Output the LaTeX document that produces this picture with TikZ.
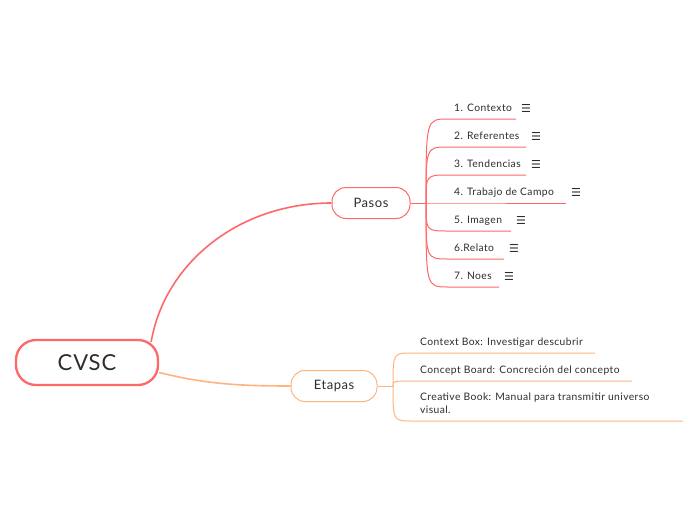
\documentclass[tikz,border=0pt]{standalone}
\usepackage{fontspec}
\setmainfont{Lato}[LetterSpace=4]
\newfontfamily\iconfont{DejaVu Sans}
\usepackage{xcolor}
\usetikzlibrary{positioning,calc}
\definecolor{pasosred}{RGB}{255,104,104}
\definecolor{etapasorange}{RGB}{255,180,128}
\definecolor{inkgray}{RGB}{45,45,45}

\begin{document}
\begin{tikzpicture}[x=1pt, y=-1pt, font=\fontsize{10.3}{13}\selectfont, text=inkgray,
    rootbox/.style={draw=pasosred, line width=2.3pt, rounded corners=20pt, fill=white,
        minimum width=142pt, minimum height=45pt, font=\fontsize{22}{26}\selectfont},
    topicbox/.style={line width=1pt, rounded corners=14pt, fill=white,
        minimum height=31pt, font=\fontsize{13}{16}\selectfont},
    leaf/.style={anchor=south west, inner ysep=7pt, text depth=0pt, align=left},
    menuicon/.style={font=\iconfont\fontsize{11}{11}\selectfont, inner sep=0pt}]
    \useasboundingbox[fill=white] (0,0) rectangle (697,520);

    % central topic and main branches
    \node[rootbox] (root) at (87,362.5) {CVSC};
    \node[topicbox, draw=pasosred, minimum width=78pt] (pasos) at (371,203) {Pasos};
    \node[topicbox, draw=etapasorange, minimum width=86pt] (etapas) at (334,386) {Etapas};
    \draw[pasosred, line width=1.6pt] ($(root.north east)+(-8,3)$)
        .. controls (165,262) and (240,203) .. (pasos.west);
    \draw[etapasorange, line width=1.6pt] ($(root.east)+(0,10)$)
        .. controls (205,384) and (240,386) .. (etapas.west);

    % Pasos
    \coordinate (pb) at (426,203);
    \draw[pasosred, line width=1pt] (pasos.east) -- (pb);
    \foreach \n/\y/\e/\lab in {1/119/516/{1. Contexto}, 2/147/526/{2. Referentes},
        3/175/526/{3. Tendencias}, 4/203/566/{4. Trabajo de Campo},
        5/231/511/{5. Imagen}, 6/259/504/{6.Relato}, 7/287/499/{7. Noes}} {
        \node[leaf, inner xsep=6pt] (p\n) at (448,\y) {\lab};
        \coordinate (pe\n) at (\e,\y);
        \draw[pasosred, line width=1pt] (pb) .. controls (pb |- p\n.south west) .. (p\n.south west) -- (pe\n);
        \node[menuicon] (pi\n) at ($(pe\n)+(10,-11)$) {☰};
    }

    % Etapas
    \coordinate (eb) at (393,386);
    \draw[etapasorange, line width=1pt] (etapas.east) -- (eb);
    \foreach \n/\y/\e/\lab in {1/353/595/{Context Box: Investigar descubrir},
        2/381/632/{Concept Board: Concreción del concepto},
        3/421/683/{Creative Book: Manual para transmitir universo\\visual.}} {
        \node[leaf, inner xsep=8pt] (e\n) at (412,\y) {\lab};
        \coordinate (ee\n) at (\e,\y);
        \draw[etapasorange, line width=1pt] (eb) .. controls (eb |- e\n.south west) .. (e\n.south west) -- (ee\n);
    }
\end{tikzpicture}
\end{document}
